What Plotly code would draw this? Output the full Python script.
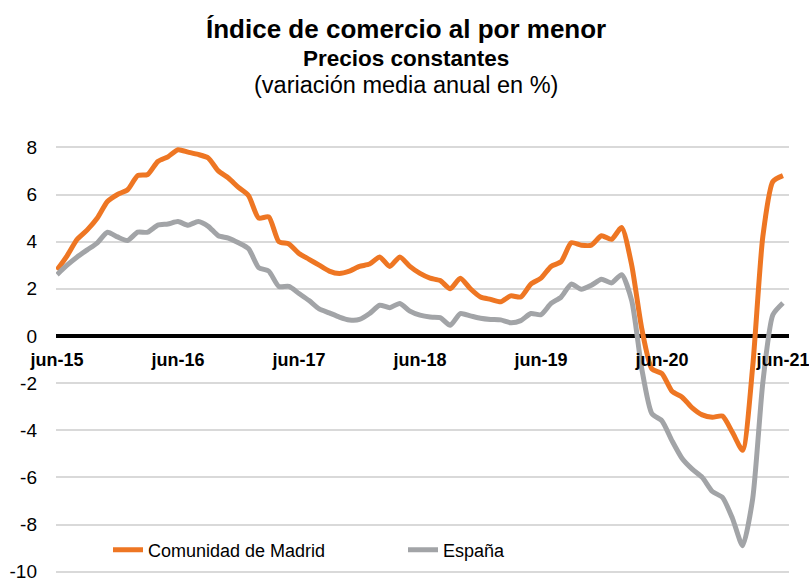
import plotly.graph_objects as go

months = list(range(73))
tick_pos = [0, 12, 24, 36, 48, 60, 72]
tick_labels = ["jun-15", "jun-16", "jun-17", "jun-18", "jun-19", "jun-20", "jun-21"]
y_ticks = [-10, -8, -6, -4, -2, 0, 2, 4, 6, 8]
y_tick_labels = ["-10", "-8", "-6", "-4", "-2", "0", "2", "4", "6", "8"]

madrid = [2.8, 3.4, 4.1, 4.5, 5.0, 5.7, 6.0, 6.2, 6.8, 6.85, 7.4, 7.6,
          7.9, 7.8, 7.7, 7.55, 7.0, 6.7, 6.3, 5.95, 5.0, 5.05, 4.0, 3.9,
          3.5, 3.25, 3.0, 2.75, 2.65, 2.75, 2.95, 3.05, 3.35, 2.95, 3.35, 2.95,
          2.65, 2.45, 2.35, 2.0, 2.45, 2.0, 1.65, 1.55, 1.45, 1.7, 1.65, 2.2,
          2.45, 2.95, 3.15, 3.95, 3.85, 3.85, 4.25, 4.1, 4.6, 3.0, 0.3, -1.4,
          -1.6, -2.35, -2.6, -3.05, -3.35, -3.45, -3.4, -4.1, -4.85, -1.3, 4.2, 6.55,
          6.8]
espana = [2.6, 3.0, 3.35, 3.65, 3.95, 4.4, 4.2, 4.05, 4.4, 4.4, 4.7, 4.75,
          4.85, 4.7, 4.85, 4.65, 4.25, 4.15, 3.95, 3.7, 2.9, 2.75, 2.1, 2.1,
          1.8, 1.5, 1.15, 0.98, 0.8, 0.68, 0.7, 0.95, 1.3, 1.2, 1.38, 1.05,
          0.88, 0.8, 0.78, 0.45, 0.95, 0.85, 0.75, 0.7, 0.68, 0.56, 0.65, 0.95,
          0.9, 1.38, 1.65, 2.2, 1.98, 2.15, 2.4, 2.25, 2.6, 1.5, -1.4, -3.3,
          -3.6, -4.45, -5.2, -5.65, -6.0, -6.6, -6.85, -7.75, -8.9, -6.9, -2.0, 0.9,
          1.4]

ORANGE = "#EE7623"
GRAY = "#A2A4A7"
FONT = "Liberation Sans, Arial, sans-serif"

W, H = 809, 581
mt, mb, ml, mr = 145, 7, 56, 20
ymin, ymax = -10.1, 8.1
pw = W - ml - mr
ph = H - mt - mb

def py(pix):
    return (H - mb - pix) / ph

def px(pix):
    return (pix - ml) / pw

fig = go.Figure()
fig.add_trace(go.Scatter(x=months, y=madrid, mode="lines", name="Comunidad de Madrid",
                         line=dict(color=ORANGE, width=5, shape="spline", smoothing=0.6)))
fig.add_trace(go.Scatter(x=months, y=espana, mode="lines", name="España",
                         line=dict(color=GRAY, width=5, shape="spline", smoothing=0.6)))

titles = [
    ("<b>Índice de comercio al por menor</b>", 26, 29),
    ("<b>Precios constantes</b>", 22.5, 58),
    ("(variación media anual en %)", 23.5, 85),
]
for txt, sz, ypix in titles:
    fig.add_annotation(text=txt, xref="paper", yref="paper", x=px(406),
                       y=py(ypix), xanchor="center", yanchor="middle", showarrow=False,
                       font=dict(family=FONT, size=sz, color="black"))

fig.update_layout(
    width=W, height=H,
    margin=dict(t=mt, b=mb, l=ml, r=mr, autoexpand=False),
    paper_bgcolor="white", plot_bgcolor="white",
    font=dict(family=FONT, color="black"),
    showlegend=True,
    legend=dict(orientation="h", x=px(108), y=py(550), yanchor="middle", xanchor="left",
                font=dict(family=FONT, size=18, color="black"),
                bgcolor="rgba(0,0,0,0)", entrywidth=250, entrywidthmode="pixels",
                itemwidth=30),
    xaxis=dict(range=[-0.1, 72.6], tickvals=tick_pos, ticktext=tick_labels,
               showgrid=False, zeroline=False, showline=False, ticks="",
               anchor="free", position=(0 - ymin) / (ymax - ymin), automargin=False,
               ticklabelstandoff=11, ticklabeloverflow="allow",
               tickfont=dict(family=FONT, size=18, color="black", weight="bold")),
    yaxis=dict(range=[ymin, ymax], tickvals=y_ticks, ticktext=y_tick_labels,
               showgrid=True, gridcolor="#D9D9D9", gridwidth=1.5,
               zeroline=True, zerolinecolor="black", zerolinewidth=4,
               showline=False, ticks="", ticklabelstandoff=18, automargin=False,
               ticklabeloverflow="allow",
               tickfont=dict(family=FONT, size=19, color="black")),
)

fig.write_html("out.html", config={"displayModeBar": False},
               post_script="document.body.style.margin='0';document.body.style.overflow='hidden';")
